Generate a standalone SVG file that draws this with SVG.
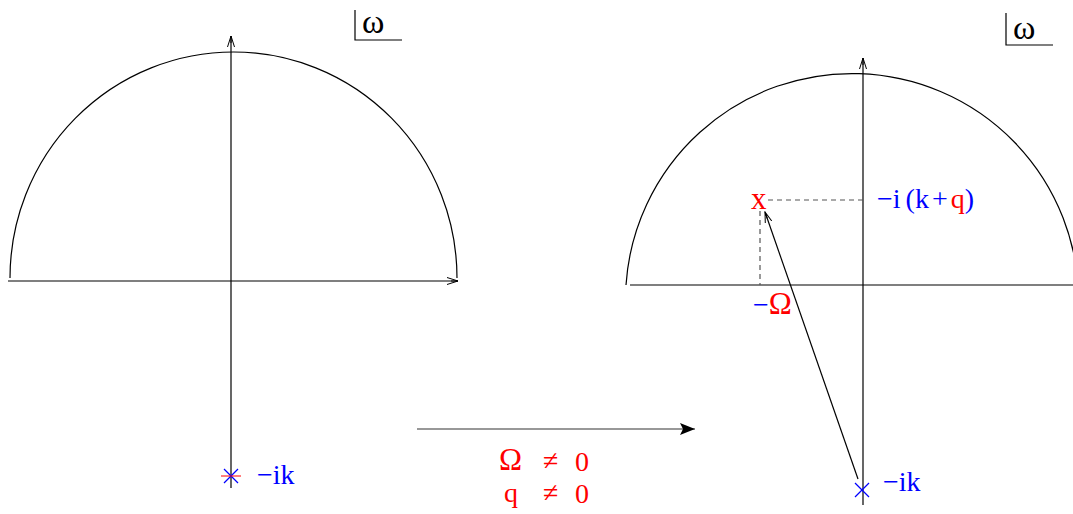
<svg xmlns="http://www.w3.org/2000/svg" width="1073" height="514" viewBox="0 0 1073 514">
<defs>
<marker id="open" markerWidth="12" markerHeight="8" refX="11" refY="4" orient="auto" markerUnits="userSpaceOnUse">
<path d="M0,0.5 L11,4 L0,7.5 M4,4 L11,4" fill="none" stroke="#000" stroke-width="1"/>
</marker>
<marker id="filled" markerWidth="16" markerHeight="12" refX="15" refY="6" orient="auto" markerUnits="userSpaceOnUse">
<path d="M0,0 L15,6 L0,12 L3,6 Z" fill="#000"/>
</marker>
</defs>
<style>
.ax{stroke:#000;stroke-width:1.2;fill:none}
.arc{stroke:#000;stroke-width:1.2;fill:none}
.dash{stroke:#555;stroke-width:1.2;stroke-dasharray:5,4;fill:none}
.t{font-family:"Liberation Serif","DejaVu Serif",serif;font-size:28px}
.big{font-size:31px}
.w{font-family:"Liberation Serif","DejaVu Serif",serif;font-size:34px}
.b{fill:#0000ff}
.r{fill:#ff0000}
.k{fill:#000}
.box{stroke:#000;stroke-width:1.2;fill:none}
</style>
<g id="left-panel">
<path class="arc" d="M10,278 A223.5,226 0 0 1 457,278"/>
<line class="ax" x1="8" y1="281" x2="458" y2="281" marker-end="url(#open)"/>
<line class="ax" x1="231" y1="488" x2="231" y2="36" marker-end="url(#open)"/>
</g>
<g id="left-omega">
<path class="box" d="M355,10 L355,40 L402,40"/>
<text class="w k" x="362" y="33">ω</text>
</g>
<g id="left-pole">
<line x1="224" y1="469" x2="238" y2="483" stroke="#0000ff" stroke-width="1.2"/>
<line x1="224" y1="483" x2="238" y2="469" stroke="#0000ff" stroke-width="1.2"/>
<line x1="221" y1="476" x2="241" y2="476" stroke="#ff0000" stroke-width="1"/>
<text class="t b" x="257" y="484">−ik</text>
</g>
<g id="right-panel">
<path class="arc" d="M626,285 A226.5,226.5 0 0 1 1078.5,299.5"/>
<line class="ax" x1="630" y1="285" x2="1073" y2="285"/>
<line class="ax" x1="863" y1="505" x2="863" y2="58" marker-end="url(#open)"/>
</g>
<g id="right-omega">
<path class="box" d="M1006,13 L1006,45 L1053,45"/>
<text class="w k" x="1013" y="39">ω</text>
</g>
<g id="connectors">
<line class="dash" x1="768" y1="200" x2="863" y2="200"/>
<line class="dash" x1="760" y1="211" x2="760" y2="285"/>
<line class="ax" x1="858" y1="479" x2="765" y2="212" marker-end="url(#open)"/>
<line x1="417" y1="429" x2="695" y2="429" stroke="#333" stroke-width="1.2" marker-end="url(#filled)"/>
</g>
<g id="pole-moved">
<text class="t r big" x="751" y="209">x</text>
<text class="t" x="877" y="208"><tspan class="b">−i</tspan><tspan class="b" dx="5">(k</tspan><tspan class="b" dx="3">+</tspan><tspan class="r" dx="3">q</tspan><tspan class="b">)</tspan></text>
<text class="t" x="753" y="314"><tspan class="b">−</tspan><tspan class="r big">Ω</tspan></text>
</g>
<g id="right-pole">
<line x1="855" y1="483" x2="869" y2="497" stroke="#0000ff" stroke-width="1.2"/>
<line x1="855" y1="497" x2="869" y2="483" stroke="#0000ff" stroke-width="1.2"/>
<text class="t b" x="883" y="491">−ik</text>
</g>
<g id="condition">
<text class="t r big" x="499" y="470">Ω</text>
<text class="t r" x="543" y="470">≠</text>
<text class="t r" x="575" y="471">0</text>
<text class="t r" x="504" y="502">q</text>
<text class="t r" x="543" y="502">≠</text>
<text class="t r" x="575" y="503">0</text>
</g>
</svg>
